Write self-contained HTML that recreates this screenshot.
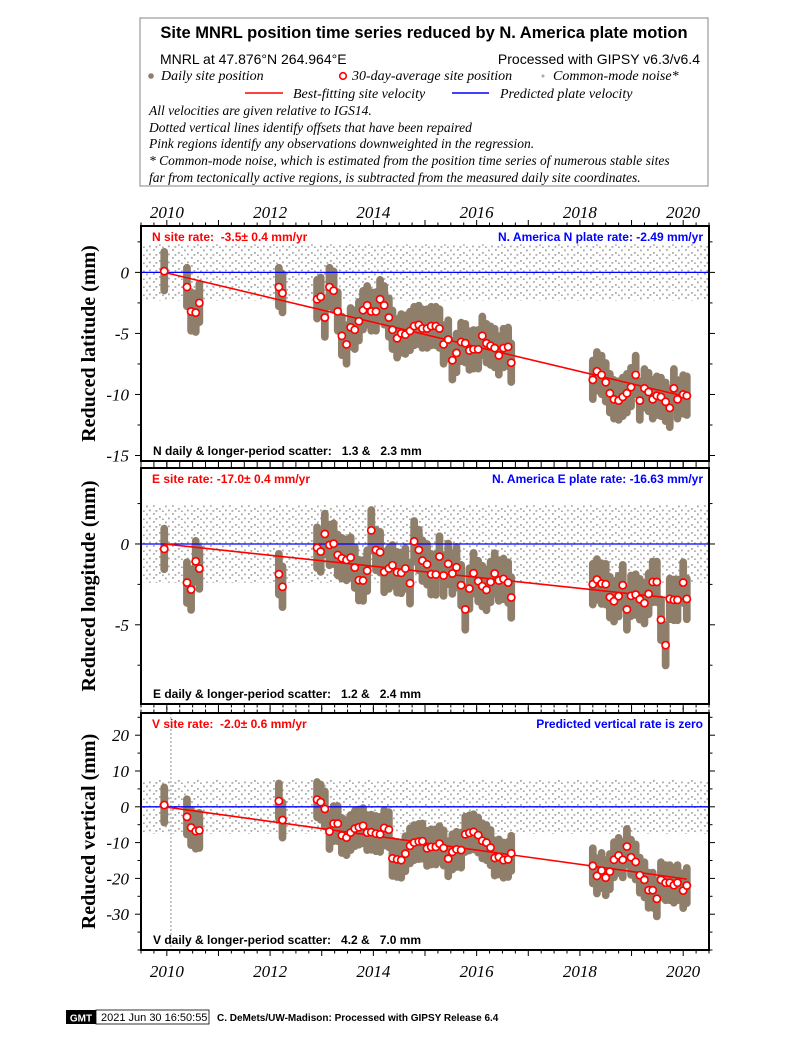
<!DOCTYPE html>
<html><head><meta charset="utf-8">
<style>
html,body{margin:0;padding:0;background:#fff;}
svg text{font-family:"Liberation Sans",sans-serif;}
.ser{font-family:"Liberation Serif",serif;font-style:italic;}
.pre{white-space:pre;}
</style></head>
<body>
<svg id="chart" width="800" height="1035" viewBox="0 0 800 1035" xmlns="http://www.w3.org/2000/svg">
<defs>
<pattern id="noise" width="19" height="8" patternUnits="userSpaceOnUse">
<rect x="1" y="1" width="1.8" height="1.8" fill="#aaa"/>
<rect x="7" y="4" width="1.8" height="1.8" fill="#aaa"/>
<rect x="13" y="1.5" width="1.8" height="1.8" fill="#aaa"/>
<rect x="16" y="5.5" width="1.8" height="1.8" fill="#aaa"/>
<rect x="3.5" y="6" width="1.8" height="1.8" fill="#aaa"/>
<rect x="10" y="6.5" width="1.8" height="1.8" fill="#aaa"/>
</pattern>
</defs>
<g>
<rect x="140" y="18" width="568" height="168" fill="#fff" stroke="#999" stroke-width="1.2"/>
<text x="424" y="38" text-anchor="middle" font-size="16.5" font-weight="bold">Site MNRL position time series reduced by N. America plate motion</text>
<text x="160" y="64" font-size="14">MNRL at 47.876°N 264.964°E</text>
<text x="700" y="64" font-size="14" text-anchor="end">Processed with GIPSY v6.3/v6.4</text>
<circle cx="151" cy="76" r="2.8" fill="#8f7f6a"/>
<text x="161" y="80" font-size="14" class="ser">Daily site position</text>
<circle cx="343" cy="76" r="3.3" fill="#fff" stroke="#f00" stroke-width="1.6"/>
<text x="352" y="80" font-size="14" class="ser">30-day-average site position</text>
<circle cx="543" cy="76" r="1.5" fill="#aaa"/>
<text x="553" y="80" font-size="14" class="ser">Common-mode noise*</text>
<line x1="245" y1="93" x2="283" y2="93" stroke="#f00" stroke-width="1.5"/>
<text x="293" y="98" font-size="14" class="ser">Best-fitting site velocity</text>
<line x1="452" y1="93" x2="489" y2="93" stroke="#00f" stroke-width="1.5"/>
<text x="500" y="98" font-size="14" class="ser">Predicted plate velocity</text>
<text x="149" y="115" font-size="13.5" class="ser">All velocities are given relative to IGS14.</text>
<text x="149" y="132" font-size="13.5" class="ser">Dotted vertical lines identify offsets that have been repaired</text>
<text x="149" y="148" font-size="13.5" class="ser">Pink regions identify any observations downweighted in the regression.</text>
<text x="149" y="165" font-size="13.5" class="ser">* Common-mode noise, which is estimated from the position time series of numerous stable sites</text>
<text x="149" y="182" font-size="13.5" class="ser">far from tectonically active regions, is subtracted from the measured daily site coordinates.</text>
</g>
<g>
<rect x="66" y="1010" width="30" height="14" fill="#000"/>
<text x="81" y="1021.5" font-size="10" font-weight="bold" fill="#fff" text-anchor="middle">GMT</text>
<rect x="96" y="1010" width="113" height="14" fill="#fff" stroke="#000" stroke-width="0.8"/>
<text x="101" y="1021" font-size="11">2021 Jun 30 16:50:55</text>
<text x="217" y="1021" font-size="10" font-weight="bold">C. DeMets/UW-Madison: Processed with GIPSY Release 6.4</text>
</g>
</svg>
<script>
// ---- data ----
const epochs = [2009.95,2010.39,2010.47,2010.56,2010.63,2012.17,2012.24,
2012.91,2012.98,2013.06,2013.15,2013.23,2013.31,2013.39,2013.48,2013.56,2013.64,
2013.72,2013.80,2013.88,2013.96,2014.05,2014.13,2014.21,2014.30,2014.37,2014.46,
2014.54,2014.62,2014.71,2014.79,2014.88,2014.95,2015.04,2015.12,2015.21,2015.28,
2015.36,2015.45,2015.53,2015.61,2015.70,2015.78,2015.86,2015.94,2016.03,2016.11,
2016.19,2016.27,2016.35,2016.43,2016.52,2016.61,2016.67,
2018.25,2018.33,2018.42,2018.50,2018.58,2018.66,2018.75,2018.83,2018.91,2018.99,
2019.08,2019.16,2019.25,2019.33,2019.41,2019.49,2019.57,2019.66,2019.74,2019.82,2019.89,2020.00,2020.07];
const northAvg = [0.1,-1.2,-3.2,-3.3,-2.5,-1.2,-1.7,
-2.2,-2.0,-3.7,-1.2,-1.5,-3.2,-5.2,-5.9,-4.5,-4.7,-4.0,-3.1,-2.7,-3.2,-3.2,-2.2,-2.7,-3.7,-4.7,-5.4,-5.0,-5.1,-4.8,-4.4,-4.3,-4.6,-4.6,-4.4,-4.4,-4.6,-5.9,-5.5,-7.2,-6.6,-5.7,-5.8,-6.4,-6.3,-6.3,-5.2,-5.8,-6.0,-6.2,-6.8,-6.2,-6.1,-7.4,
-8.8,-8.1,-8.4,-9.0,-9.9,-10.4,-10.5,-10.2,-9.9,-9.4,-8.4,-10.5,-9.5,-9.8,-10.4,-10.1,-10.2,-10.6,-11.1,-9.5,-10.4,-10.0,-10.1];
const eastAvg = [-0.31,-2.39,-2.82,-1.07,-1.52,-1.87,-2.65,
-0.23,-0.47,0.62,-0.06,0.02,-0.68,-0.88,-0.99,-0.84,-1.46,-2.24,-2.26,-1.65,0.84,-0.37,-0.51,-1.73,-1.52,-1.32,-1.75,-1.79,-1.52,-2.43,0.16,-0.37,-1.03,-1.26,-1.87,-1.89,-0.78,-1.95,-1.23,-1.83,-1.44,-2.55,-4.05,-2.76,-1.81,-2.30,-2.61,-2.84,-2.35,-1.83,-2.26,-2.16,-2.39,-3.31,
-2.49,-2.20,-2.45,-2.49,-3.29,-3.54,-3.23,-2.55,-4.05,-3.21,-3.13,-3.42,-3.66,-3.09,-2.35,-2.35,-4.69,-6.26,-3.40,-3.46,-3.46,-2.39,-3.40];
const vertAvg = [0.5,-2.8,-5.8,-6.8,-6.6,1.6,-3.7,
2.0,1.3,-0.6,-6.9,-4.7,-4.7,-8.0,-8.6,-7.2,-6.1,-5.7,-5.3,-7.2,-7.1,-7.5,-7.7,-5.9,-6.4,-14.4,-14.7,-14.9,-13.1,-10.9,-10.0,-9.7,-9.6,-11.6,-11.2,-11.2,-10.3,-11.5,-14.5,-12.6,-11.9,-12.1,-7.7,-7.3,-7.0,-7.9,-9.5,-10.0,-11.4,-14.3,-14.0,-14.9,-14.7,-13.0,
-16.5,-19.3,-17.8,-19.8,-18.1,-14.8,-13.6,-14.8,-11.1,-14.1,-15.4,-19.1,-20.4,-23.3,-23.3,-25.7,-20.4,-21.2,-21.2,-21.9,-21.2,-23.4,-22.0];
const fitStartEnd = [2009.95, 2020.07];
const northFit = [0, -10.2];
const eastFit = [0, -3.45];
const vertFit = [0, -20.2];
const cloudHalfMm = [1.9, 1.5, 6.0];
const noiseHalfMm = [2.3, 2.4, 7.5];
const northTicks = [0,-5,-10,-15];
const eastTicks = [0,-5];
const vertTicks = [20,10,0,-10,-20,-30];
const yearLabels = [2010,2012,2014,2016,2018,2020];
const offsetEpochs = [2010.08];

// ---- layout ----
const X0 = 141, X1 = 709, T0 = 2009.5, T1 = 2020.5;
const xs = t => X0 + (t - T0) / (T1 - T0) * (X1 - X0);
const NS = 'http://www.w3.org/2000/svg';
const svg = document.getElementById('chart');
function el(tag, attrs, parent) {
  const e = document.createElementNS(NS, tag);
  for (const k in attrs) e.setAttribute(k, attrs[k]);
  (parent || svg).appendChild(e);
  return e;
}
const panels = [
  {key:'north', top:226, bot:461, vmax:3.8, vmin:-15.45, avg:northAvg, fit:northFit, ticks:northTicks, minor:2.5,
   title:'Reduced latitude (mm)', left:'N site rate:  -3.5± 0.4 mm/yr', right:'N. America N plate rate: -2.49 mm/yr',
   bottom:'N daily & longer-period scatter:   1.3 &   2.3 mm'},
  {key:'east', top:468, bot:704, vmax:4.7, vmin:-9.9, avg:eastAvg, fit:eastFit, ticks:eastTicks, minor:2.5,
   title:'Reduced longitude (mm)', left:'E site rate: -17.0± 0.4 mm/yr', right:'N. America E plate rate: -16.63 mm/yr',
   bottom:'E daily & longer-period scatter:   1.2 &   2.4 mm'},
  {key:'vertical', top:713, bot:950, vmax:26.2, vmin:-40, avg:vertAvg, fit:vertFit, ticks:vertTicks, minor:5,
   title:'Reduced vertical (mm)', left:'V site rate:  -2.0± 0.6 mm/yr', right:'Predicted vertical rate is zero',
   bottom:'V daily & longer-period scatter:   4.2 &   7.0 mm'}
];
panels.forEach((p, pi) => {
  const ys = v => p.top + (p.vmax - v) / (p.vmax - p.vmin) * (p.bot - p.top);
  const g = el('g', {});
  
  
  const cid = 'clip' + pi;
  const cp = el('clipPath', {id: cid}, g);
  el('rect', {x: X0, y: p.top, width: X1 - X0, height: p.bot - p.top}, cp);
  const plot = el('g', {'clip-path': 'url(#' + cid + ')'}, g);
  const nb = el('rect', {x: X0, y: ys(noiseHalfMm[pi]), width: X1 - X0, height: ys(-noiseHalfMm[pi]) - ys(noiseHalfMm[pi]), fill: 'url(#noise)'}, plot);
  
  
  if (p.key === 'vertical') offsetEpochs.forEach(t => {
    const ol = el('line', {x1: xs(t), x2: xs(t), y1: p.top, y2: p.bot, stroke: '#777', 'stroke-width': 0.8, 'stroke-dasharray': '2,2'}, plot);
    
    
  });
  const cg = el('g', {fill: '#8f7f6a'}, plot);
  
  
  epochs.forEach((t, i) => {
    const h = cloudHalfMm[pi];
    const c = el('rect', {x: xs(t - 0.075), width: xs(t + 0.075) - xs(t - 0.075), y: ys(p.avg[i] + h), height: ys(p.avg[i] - h) - ys(p.avg[i] + h), rx: 4}, cg);
    
    
  });
  const pl = el('line', {x1: X0, x2: X1, y1: ys(0), y2: ys(0), stroke: '#00f', 'stroke-width': 1.3}, plot);
  
  
  const fl = el('line', {x1: xs(fitStartEnd[0]), x2: xs(fitStartEnd[1]), y1: ys(p.fit[0]), y2: ys(p.fit[1]), stroke: '#f00', 'stroke-width': 1.6}, plot);
  
  
  const ag = el('g', {}, plot);
  
  
  epochs.forEach((t, i) => {
    const c = el('circle', {cx: xs(t), cy: ys(p.avg[i]), r: 3.6, fill: '#fff', stroke: '#f00', 'stroke-width': 1.7}, ag);
    
    
  });
  const fr = el('rect', {x: X0, y: p.top, width: X1 - X0, height: p.bot - p.top, fill: 'none', stroke: '#000', 'stroke-width': 2}, g);
  
  
  for (let k = 0; k <= 44; k++) {
    const t = T0 + k * 0.25;
    const major = Math.abs(t - Math.round(t)) < 1e-6;
    const L = major ? 6 : 3.5;
    el('line', {x1: xs(t), x2: xs(t), y1: p.top, y2: p.top - L, stroke: '#000', 'stroke-width': 1}, g);
    el('line', {x1: xs(t), x2: xs(t), y1: p.bot, y2: p.bot + L, stroke: '#000', 'stroke-width': 1}, g);
  }
  for (let v = Math.ceil(p.vmin / p.minor) * p.minor; v <= p.vmax; v += p.minor) {
    const major = p.ticks.some(tv => Math.abs(tv - v) < 1e-6);
    const L = major ? 6 : 3.5;
    el('line', {x1: X0, x2: X0 - L, y1: ys(v), y2: ys(v), stroke: '#000', 'stroke-width': 1}, g);
    el('line', {x1: X1, x2: X1 + L, y1: ys(v), y2: ys(v), stroke: '#000', 'stroke-width': 1}, g);
  }
  p.ticks.forEach(v => {
    const tl = el('text', {x: 129, y: ys(v) + 6, 'font-size': 17, 'text-anchor': 'end', class: 'ser'}, g);
    tl.textContent = v;
    
    
  });
  const cy = (p.top + p.bot) / 2;
  const at = el('text', {x: 0, y: 0, 'font-size': 20, 'font-weight': 'bold', 'text-anchor': 'middle', transform: 'translate(95,' + cy + ') rotate(-90)', style: 'font-family:"Liberation Serif",serif'}, g);
  at.textContent = p.title;
  
  
  const lt = el('text', {x: 152, y: p.top + 15, 'font-size': 12, 'font-weight': 'bold', fill: '#f00', class: 'pre'}, g);
  lt.textContent = p.left;
  
  
  const rt = el('text', {x: 703, y: p.top + 15, 'font-size': 12, 'font-weight': 'bold', fill: '#00f', 'text-anchor': 'end'}, g);
  rt.textContent = p.right;
  
  
  const bt = el('text', {x: 153, y: p.bot - 6, 'font-size': 12, 'font-weight': 'bold', fill: '#000', class: 'pre'}, g);
  bt.textContent = p.bottom;
  
  
});
yearLabels.forEach(y => {
  const a = el('text', {x: xs(y), y: 218, 'font-size': 17, 'text-anchor': 'middle', class: 'ser'});
  a.textContent = y;
  
  
  const b = el('text', {x: xs(y), y: 977, 'font-size': 17, 'text-anchor': 'middle', class: 'ser'});
  b.textContent = y;
  
  
});
</script>
</body></html>
